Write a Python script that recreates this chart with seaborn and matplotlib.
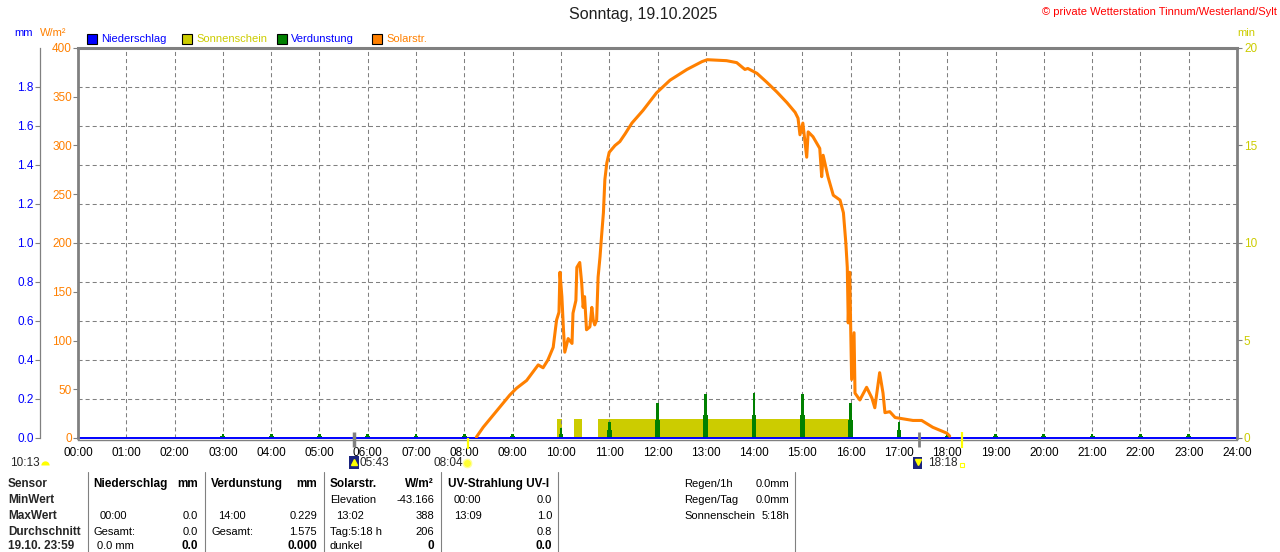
import numpy as np
import pandas as pd
import matplotlib
matplotlib.use("Agg")
import matplotlib.pyplot as plt
import seaborn as sns
from matplotlib.patches import Rectangle
from matplotlib.lines import Line2D
from matplotlib import transforms

# --- Daten ---
solar_t = [8.25, 8.39, 8.74, 8.94, 9.08, 9.29, 9.53, 9.63, 9.73, 9.84, 9.91, 9.96, 9.98,
           10.02, 10.05, 10.08, 10.15, 10.23, 10.25, 10.31, 10.33, 10.39, 10.43, 10.46,
           10.49, 10.53, 10.60, 10.64, 10.67, 10.70, 10.74, 10.77, 10.81, 10.84, 10.88,
           10.91, 10.95, 11.0, 11.12, 11.22, 11.33, 11.47, 11.70, 11.98, 12.26, 12.61,
           12.92, 13.03, 13.43, 13.64, 13.81, 13.87, 14.06, 14.26, 14.47, 14.68, 14.85,
           14.91, 14.95, 15.01, 15.09, 15.12, 15.22, 15.36, 15.40, 15.43, 15.53, 15.64,
           15.78, 15.85, 15.90, 15.93, 15.95, 15.98, 16.00, 16.02, 16.07, 16.09, 16.19,
           16.33, 16.44, 16.50, 16.60, 16.67, 16.71, 16.81, 16.92, 17.29, 17.47, 17.70,
           17.99, 18.05]
solar_w = [1, 11, 32, 44, 51, 59, 75, 72, 80, 93, 121, 129, 170,
           145, 114, 88, 102, 97, 128, 141, 175, 180, 159, 134,
           145, 111, 114, 134, 121, 116, 121, 165, 186, 206, 231,
           265, 282, 293, 300, 304, 312, 323, 336, 354, 367, 378,
           386, 388, 387, 385, 378, 379, 374, 365, 355, 344, 334,
           328, 311, 323, 288, 314, 309, 297, 268, 290, 268, 249,
           244, 231, 200, 175, 118, 170, 114, 60, 108, 46, 39,
           52, 41, 31, 67, 46, 26, 27, 21, 18, 18, 11,
           5, 2]

# Sonnenschein (min)
sun_start = [9.92, 10.27, 10.77]
sun_end = [10.02, 10.43, 16.03]
sun_min = [1.0, 1.0, 1.0]

# Verdunstung (mm) je Stunde: Spitze und Sockel
evap_hours = list(range(3, 24))
evap_peak = [0.02, 0.02, 0.02, 0.02, 0.02, 0.02, 0.02, 0.05, 0.08, 0.18, 0.226,
             0.229, 0.226, 0.18, 0.08, 0.025, 0.02, 0.02, 0.02, 0.02, 0.02]
evap_base = [0.01, 0.01, 0.01, 0.01, 0.01, 0.01, 0.01, 0.02, 0.04, 0.09, 0.12,
             0.12, 0.12, 0.09, 0.04, 0.01, 0.01, 0.01, 0.01, 0.01, 0.01]

# Niederschlag (mm)
rain_t = [0, 24]
rain_mm = [0.0, 0.0]

hour_labels = [f"{h:02d}:00" for h in range(25)]
w_ticks = list(range(0, 401, 50))
mm_ticks = [round(0.2 * i, 1) for i in range(10)]
min_ticks = [0, 5, 10, 15, 20]

# Dämmerung / Sonnenauf- und -untergang (h)
dawn_t, sunrise_t, dusk_t, sunset_t = 5.717, 8.067, 17.41, 18.30

df_solar = pd.DataFrame({"t": solar_t, "w": solar_w})
df_rain = pd.DataFrame({"t": rain_t, "mm": rain_mm})

ORANGE = "#FF8000"
YELLOW = "#CCCC00"
GREEN = "#008000"
BLUE = "#0000FF"
GRAY = "#808080"

FS = 8.0      # normaler Text
FS_NUM = 8.5  # Achsenbeschriftung
FS_B = 8.5    # fett

sns.set_style("white")
plt.rcParams["font.family"] = ["Liberation Sans", "DejaVu Sans"]
plt.rcParams["font.size"] = FS

W, H = 1280, 552
fig = plt.figure(figsize=(W / 100, H / 100), dpi=100)
fig.patch.set_facecolor("white")


def fx(x):
    return x / W


def fy(y):
    return 1 - y / H


L, R, T, B = 78, 1237, 48, 438
ax_w = fig.add_axes([fx(L), fy(B), fx(R) - fx(L), fy(T) - fy(B)])
ax_mm = ax_w.twinx()
ax_min = ax_w.twinx()

ax_min.set_zorder(1)
ax_mm.set_zorder(2)
ax_w.set_zorder(3)
for a in (ax_w, ax_mm, ax_min):
    a.patch.set_visible(False)
    for s in a.spines.values():
        s.set_visible(False)

ax_w.set_xlim(0, 24)
ax_w.set_ylim(0, 400)
ax_mm.set_ylim(0, 2.0)
ax_min.set_ylim(0, 20)

# Gitter
ax_mm.set_yticks(mm_ticks)
ax_mm.set_axisbelow(True)
ax_mm.yaxis.grid(True, color=GRAY, lw=0.75, dashes=(3.9, 2.9))
for h in range(1, 24):
    ax_mm.axvline(h, color=GRAY, lw=0.75, dashes=(3.9, 2.9), zorder=0.5)

# Sonnenschein
ax_min.bar(sun_start, sun_min, width=np.array(sun_end) - np.array(sun_start),
           align="edge", color=YELLOW, lw=0)

# Verdunstung
ax_mm.bar(evap_hours, evap_base, width=0.10, color=GREEN, lw=0, zorder=2)
ax_mm.bar(evap_hours, evap_peak, width=0.056, color=GREEN, lw=0, zorder=2)

# Niederschlag
sns.lineplot(data=df_rain, x="t", y="mm", ax=ax_mm, color=BLUE, lw=1.4,
             clip_on=False, zorder=3)

# Solarstrahlung
sns.lineplot(data=df_solar, x="t", y="w", ax=ax_w, color=ORANGE, lw=2.2,
             estimator=None, sort=False, zorder=4)

for a in (ax_w, ax_mm, ax_min):
    a.set_xlabel("")
    a.set_ylabel("")

# Achsenrahmen
for side, lw in [("left", 2.0), ("top", 2.2), ("right", 2.0)]:
    ax_w.spines[side].set_visible(True)
    ax_w.spines[side].set_color(GRAY)
    ax_w.spines[side].set_linewidth(lw)
ax_min.spines["bottom"].set_visible(True)
ax_min.spines["bottom"].set_color(GRAY)
ax_min.spines["bottom"].set_linewidth(1.0)
ax_min.spines["bottom"].set_position(("outward", 1.2))

ax_mm.yaxis.tick_left()
ax_mm.spines["left"].set_visible(True)
ax_mm.spines["left"].set_position(("outward", 38 * 0.72))
ax_mm.spines["left"].set_color(GRAY)
ax_mm.spines["left"].set_linewidth(0.9)
ax_mm.set_yticklabels([f"{v:.1f}" for v in mm_ticks])
ax_mm.tick_params(axis="y", colors=GRAY, labelcolor=BLUE, length=3.5, width=0.8,
                  pad=1.0, labelsize=FS_NUM)

ax_w.set_yticks(w_ticks)
ax_w.set_yticklabels([str(v) for v in w_ticks])
ax_w.tick_params(axis="y", colors=GRAY, labelcolor=ORANGE, length=3.5, width=0.8,
                 pad=0.8, labelsize=FS_NUM)
ax_w.set_xticks(range(25))
ax_w.set_xticklabels(hour_labels)
ax_w.tick_params(axis="x", colors=GRAY, labelcolor="black", length=5, width=0.8,
                 pad=1.2, labelsize=FS_NUM)

ax_min.yaxis.tick_right()
ax_min.set_yticks(min_ticks)
ax_min.set_yticklabels([str(v) for v in min_ticks])
ax_min.tick_params(axis="y", colors=GRAY, labelcolor=YELLOW, length=3.5, width=0.8,
                   pad=1.5, labelsize=FS_NUM)

# Dämmerungs-/Sonnenmarken unter der Achse
trans = transforms.blended_transform_factory(ax_w.transData, ax_w.transAxes)
k = 1 / (B - T)
for t0, col, y0, y1, lw in [(dawn_t, GRAY, 6, -9, 2.5), (sunrise_t, "#FFFF00", 0, -11, 1.6),
                            (dusk_t, GRAY, 6, -9, 2.0), (sunset_t, "#FFFF00", 6, -10, 1.6)]:
    ax_w.plot([t0, t0], [y0 * k, y1 * k], color=col, lw=lw, transform=trans,
              clip_on=False, zorder=5, solid_capstyle="butt")

# Titel und Kopfzeilen
fig.text(fx(643), fy(15), "Sonntag, 19.10.2025", ha="center", va="center",
         fontsize=11.5, color="#202020")
fig.text(fx(1277), fy(12), "© private Wetterstation Tinnum/Westerland/Sylt",
         ha="right", va="center", fontsize=FS, color="#FF0000")
fig.text(fx(14), fy(33), "mm", ha="left", va="center", fontsize=FS, color=BLUE)
fig.text(fx(40), fy(33), "W/m²", ha="left", va="center", fontsize=FS, color=ORANGE)
fig.text(fx(1237), fy(33), "min", ha="left", va="center", fontsize=FS, color=YELLOW)

# Legende
legend_items = [(87, BLUE, "Niederschlag", BLUE), (182, YELLOW, "Sonnenschein", YELLOW),
                (277, GREEN, "Verdunstung", BLUE), (372, ORANGE, "Solarstr.", ORANGE)]
for x0, fc, label, tc in legend_items:
    fig.add_artist(Rectangle((fx(x0), fy(44)), fx(10), 10 / H, transform=fig.transFigure,
                             facecolor=fc, edgecolor="black", lw=0.8))
    fig.text(fx(x0 + 14), fy(38.5), label, ha="left", va="center", fontsize=FS, color=tc)

# Sonnenzeiten unter der Zeitachse
fig.text(fx(10), fy(463), "10:13", ha="left", va="center", fontsize=FS_NUM)
fig.add_artist(Line2D([fx(45)], [fy(465)], marker="o", markersize=6, color="#FFFF00",
                      fillstyle="top", markerfacecoloralt="none", markeredgewidth=0,
                      transform=fig.transFigure))
fig.add_artist(Rectangle((fx(349), fy(469)), fx(10), 13 / H, transform=fig.transFigure,
                         facecolor="#1A237E", edgecolor="none"))
fig.add_artist(Line2D([fx(354)], [fy(462)], marker="^", markersize=4, color="#FFFF00",
                      transform=fig.transFigure))
fig.text(fx(360), fy(463), "05:43", ha="left", va="center", fontsize=FS_NUM)
fig.text(fx(433), fy(463), "08:04", ha="left", va="center", fontsize=FS_NUM)
fig.add_artist(Line2D([fx(467)], [fy(463)], marker="o", markersize=6, color="#FFFF33",
                      markeredgecolor="#FFFF99", transform=fig.transFigure))
fig.add_artist(Rectangle((fx(913), fy(469)), fx(9), 12 / H, transform=fig.transFigure,
                         facecolor="#1A237E", edgecolor="none"))
fig.add_artist(Line2D([fx(917.5)], [fy(462)], marker="v", markersize=4, color="#FFFF00",
                      transform=fig.transFigure))
fig.text(fx(928), fy(463), "18:18", ha="left", va="center", fontsize=FS_NUM)
fig.add_artist(Rectangle((fx(960), fy(467)), fx(4), 4 / H, transform=fig.transFigure,
                         facecolor="none", edgecolor="#FFFF00", lw=0.8))

# Tabelle
for xs in [88, 205, 324, 441, 558, 795]:
    fig.add_artist(Line2D([fx(xs), fx(xs)], [fy(472), fy(552)], color=GRAY, lw=0.8,
                          transform=fig.transFigure))

rows_y = [484, 500, 516, 532, 546]
row_names = ["Sensor", "MinWert", "MaxWert", "Durchschnitt", "19.10. 23:59"]
for y, name in zip(rows_y, row_names):
    fig.text(fx(8), fy(y), name, ha="left", va="center", fontsize=FS_B, weight="bold")

last = rows_y[-1]
cells = [
    # (x, y, text, ha, bold)
    (93, 484, "Niederschlag", "left", True), (198, 484, "mm", "right", True),
    (100, 516, "00:00", "left", False), (198, 516, "0.0", "right", False),
    (93, 532, "Gesamt:", "left", False), (198, 532, "0.0", "right", False),
    (97, last, "0.0 mm", "left", False), (198, last, "0.0", "right", True),
    (211, 484, "Verdunstung", "left", True), (317, 484, "mm", "right", True),
    (218, 516, "14:00", "left", False), (317, 516, "0.229", "right", False),
    (212, 532, "Gesamt:", "left", False), (317, 532, "1.575", "right", False),
    (317, last, "0.000", "right", True),
    (330, 484, "Solarstr.", "left", True), (434, 484, "W/m²", "right", True),
    (330, 500, "Elevation", "left", False), (434, 500, "-43.166", "right", False),
    (336, 516, "13:02", "left", False), (434, 516, "388", "right", False),
    (330, 532, "Tag:5:18 h", "left", False), (434, 532, "206", "right", False),
    (330, last, "dunkel", "left", False), (434, last, "0", "right", True),
    (448, 484, "UV-Strahlung UV-I", "left", True),
    (454, 500, "00:00", "left", False), (552, 500, "0.0", "right", False),
    (454, 516, "13:09", "left", False), (552, 516, "1.0", "right", False),
    (552, 532, "0.8", "right", False), (552, last, "0.0", "right", True),
    (684, 484, "Regen/1h", "left", False), (789, 484, "0.0mm", "right", False),
    (684, 500, "Regen/Tag", "left", False), (789, 500, "0.0mm", "right", False),
    (684, 516, "Sonnenschein", "left", False), (789, 516, "5:18h", "right", False),
]
for x, y, txt, ha, bold in cells:
    fig.text(fx(x), fy(y), txt, ha=ha, va="center",
             fontsize=FS_B if bold else FS,
             weight="bold" if bold else "normal", color="black")

fig.savefig("out.png", dpi=100, facecolor="white")
